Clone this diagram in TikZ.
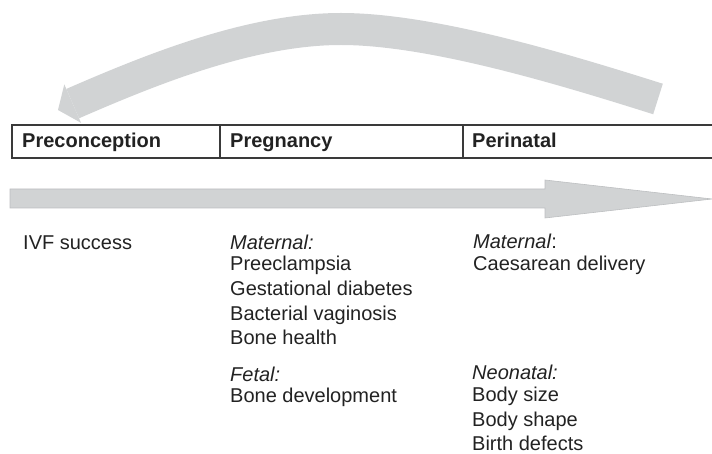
\documentclass[tikz,border=0pt]{standalone}
\usepackage{fontspec}
\setmainfont{Liberation Sans}
\usepackage{xcolor}
\usetikzlibrary{arrows.meta,positioning}
\definecolor{bandgray}{HTML}{D1D3D4}
\definecolor{bandedge}{HTML}{BDBFC1}
\definecolor{ink}{HTML}{222222}
\definecolor{rulegray}{HTML}{3A3A3A}
\tikzset{
  phasehead/.style={anchor=base west,inner sep=0pt,text=ink,
                    font=\fontsize{20}{24.7}\selectfont\bfseries},
  outcome/.style={anchor=base west,inner sep=0pt,align=left,text=ink,
                  font=\fontsize{20}{24.7}\selectfont},
  loopband/.style={-{Triangle[length=16pt,width=42pt,line width=0pt]},
                   line width=32pt,draw=bandgray},
  timeband/.style={fill=bandgray,draw=bandedge,line width=0.6pt}
}
\begin{document}
\begin{tikzpicture}[x=1pt,y=-1pt]
    \path[use as bounding box] (0,0) rectangle (712,454);
    % feedback arrow over the timeline
    \draw[loopband] (658,99) .. controls (560,68) and (430,29) .. (341,29)
      .. controls (250,29) and (150,70) .. (58,110);
    % phase row
    \draw[rulegray,line width=1.4pt] (12,125) rectangle (716,158);
    \draw[rulegray,line width=1.4pt] (220,125) -- (220,158);
    \draw[rulegray,line width=1.4pt] (463,125) -- (463,158);
    \node[phasehead] (pre) at (22,148) {Preconception};
    \node[phasehead] (preg) at (230,148) {Pregnancy};
    \node[phasehead] (peri) at (472,148) {Perinatal};
    % time arrow
    \draw[timeband] (10,189) -- (545,189) -- (545,180) -- (712,199)
      -- (545,218) -- (545,208) -- (10,208) -- cycle;
    % outcomes (anchored at the baseline of the last line)
    \node[outcome] (ivf) at (23,250) {IVF success};
    \node[outcome] (pregmat) at (230,344.8)
      {\textit{Maternal:}\\[-3pt]Preeclampsia\\Gestational diabetes\\
       Bacterial vaginosis\\Bone health};
    \node[outcome] (pregfet) at (230,402.7)
      {\textit{Fetal:}\\[-3pt]Bone development};
    \node[outcome] (perimat) at (473,270.7)
      {\textit{Maternal}:\\[-3pt]Caesarean delivery};
    \node[outcome] (perineo) at (472,450.8)
      {\textit{Neonatal:}\\[-3pt]Body size\\Body shape\\Birth defects};
\end{tikzpicture}
\end{document}
